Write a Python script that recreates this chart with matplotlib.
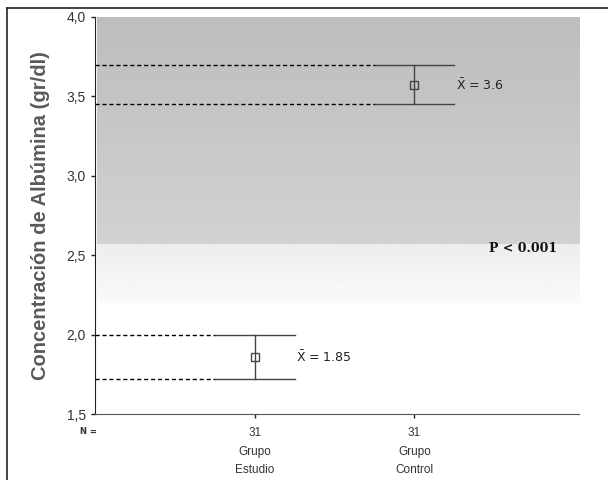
import numpy as np
import matplotlib

matplotlib.use('Agg')
import matplotlib.pyplot as plt
from matplotlib.lines import Line2D

groups = ['Grupo\nEstudio', 'Grupo\nControl']
n_values = ['31', '31']
means = [1.86, 3.57]
upper = [2.00, 3.70]
lower = [1.72, 3.45]
mean_labels = [r'$\bar{\mathrm{X}}$ = 1.85', r'$\bar{\mathrm{X}}$ = 3.6']
yticks = [1.5, 2.0, 2.5, 3.0, 3.5, 4.0]
ytick_labels = ['1,5', '2,0', '2,5', '3,0', '3,5', '4,0']

LINE_COLOR = '#444444'
TEXT_COLOR = '#333333'
NARROW = ['Liberation Sans Narrow', 'Liberation Sans', 'DejaVu Sans']

fig = plt.figure(figsize=(6.08, 4.80), dpi=100)
ax = fig.add_axes([95 / 608, 66 / 480, 484 / 608, 397 / 480])

# scan background: grey band in the upper part
grad = np.linspace(0.82, 0.74, 64).reshape(-1, 1)
ax.imshow(grad, cmap='gray', vmin=0, vmax=1, extent=[0.01, 3.03, 2.57, 4.0],
          aspect='auto', origin='lower', zorder=0)
fade = np.linspace(0.98, 0.93, 32).reshape(-1, 1)
ax.imshow(fade, cmap='gray', vmin=0, vmax=1, extent=[0.01, 3.08, 2.2, 2.57],
          aspect='auto', origin='lower', zorder=0)

x = np.arange(1, len(groups) + 1)
cap = 0.25
for xi, m, hi, lo, lab in zip(x, means, upper, lower, mean_labels):
    ax.plot([0, xi - cap], [hi, hi], color='black', lw=1, ls=(0, (3, 2)), zorder=2)
    ax.plot([0, xi - cap], [lo, lo], color='black', lw=1, ls=(0, (3, 2)), zorder=2)
    ax.plot([xi - cap, xi + cap], [hi, hi], color=LINE_COLOR, lw=1, zorder=2)
    ax.plot([xi - cap, xi + cap], [lo, lo], color=LINE_COLOR, lw=1, zorder=2)
    ax.plot([xi, xi], [lo, hi], color=LINE_COLOR, lw=1, zorder=2)
    ax.plot(xi, m, marker='s', ms=6, mfc='none', mec=LINE_COLOR, mew=1, zorder=3)
    ax.text(xi + 0.26, m, lab, fontsize=9, color='#222222', va='center', ha='left')

ax.text(2.89, 2.54, 'P < 0.001', fontsize=9, fontweight='bold', family='DejaVu Serif',
        ha='right', va='center', color='#111111')

ax.set_xlim(0, 3.03)
ax.set_ylim(1.5, 4.0)
ax.set_yticks(yticks)
ax.set_yticklabels(ytick_labels, fontsize=10, color=TEXT_COLOR, family=NARROW)
ax.set_xticks(x)
ax.set_xticklabels(n_values, fontsize=8.5, color=TEXT_COLOR, family=NARROW)
ax.tick_params(axis='y', length=3, width=1, color='#222222')
ax.tick_params(axis='x', length=3, width=1, color='#222222', pad=6)
for s in ['top', 'right']:
    ax.spines[s].set_visible(False)
ax.spines['left'].set_color('#222222')
ax.spines['bottom'].set_color('#555555')

for xi, g in zip(x, groups):
    ax.text(xi, -0.08, g, transform=ax.get_xaxis_transform(), ha='center', va='top',
            fontsize=8.5, color=TEXT_COLOR, linespacing=1.65, family=NARROW)
ax.text(-0.04, -0.045, 'N =', transform=ax.get_xaxis_transform(), ha='center', va='center',
        fontsize=6, fontweight='bold', color=TEXT_COLOR)

ax.set_ylabel('Concentración de Albúmina (gr/dl)', fontsize=14.5, fontweight='bold',
              color='#5a5a5a', labelpad=12, family=NARROW)

# frame of the scanned page
fig.add_artist(Line2D([7 / 608, 7 / 608], [0, 1 - 8 / 480], transform=fig.transFigure,
                      color='#222222', lw=1.2))
fig.add_artist(Line2D([7 / 608, 1], [1 - 8 / 480, 1 - 8 / 480], transform=fig.transFigure,
                      color='#222222', lw=1.2))

fig.savefig('out.png', dpi=100)
